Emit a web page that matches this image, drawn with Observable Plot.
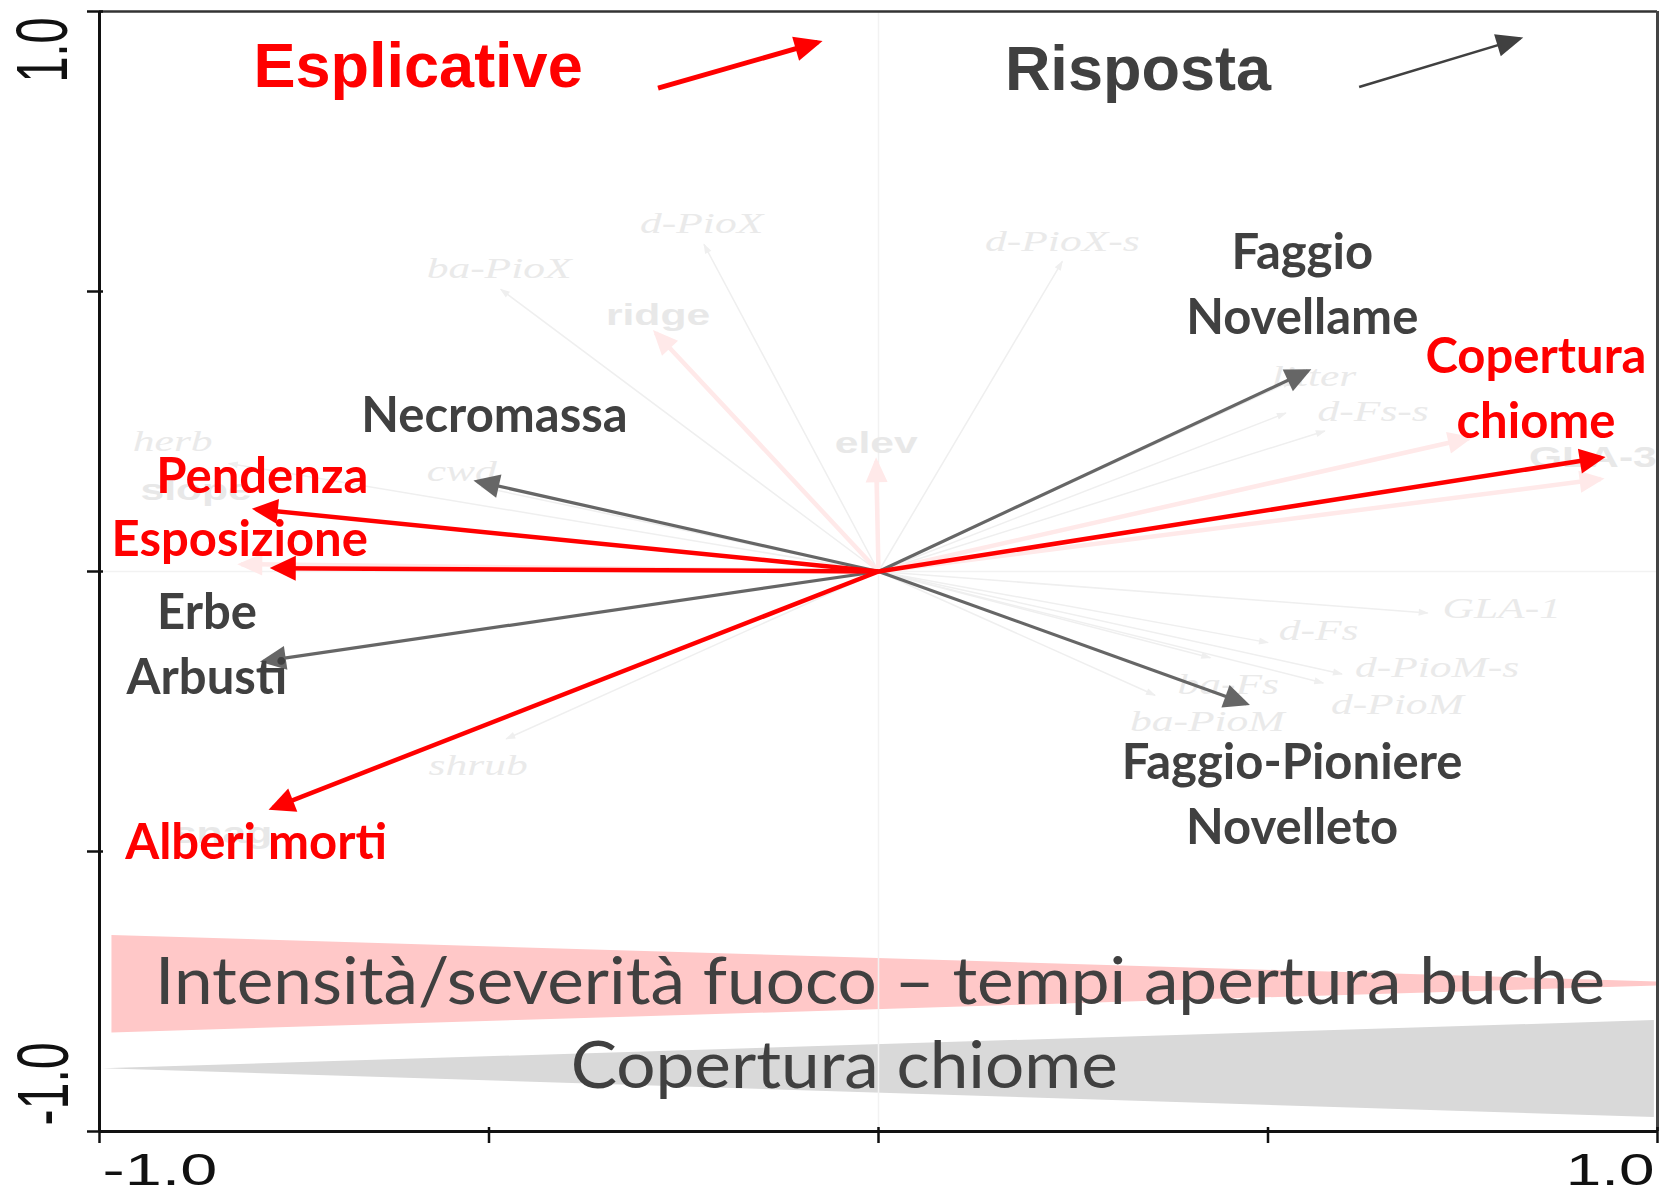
<!DOCTYPE html>
<html>
<head>
<meta charset="utf-8">
<script src="https://cdn.jsdelivr.net/npm/d3@7"></script>
<script src="https://cdn.jsdelivr.net/npm/@observablehq/plot@0.6"></script>
<style>
  html, body { margin: 0; padding: 0; background: #fff; }
  svg { display: block; }
</style>
</head>
<body>
<script>
// ---------- Data: main vectors ----------
const respNames  = ["Necromassa", "Faggio Novellame", "Erbe Arbusti", "Faggio-Pioniere Novelleto"];
const respX      = [-0.515, 0.551, -0.789, 0.472];
const respY      = [0.161, 0.358, -0.160, -0.236];
const respLabels = ["Necromassa", "Faggio\nNovellame", "Erbe\nArbusti", "Faggio-Pioniere\nNovelleto"];
const respLabelX = [-0.493, 0.544, -0.862, 0.531];
const respLabelY = [0.249, 0.424, -0.219, -0.486];

const explNames  = ["Pendenza", "Esposizione", "Alberi morti", "Copertura chiome"];
const explX      = [-0.798, -0.775, -0.777, 0.927];
const explY      = [0.111, 0.006, -0.422, 0.203];
const explLabels = ["Pendenza", "Esposizione", "Alberi morti", "Copertura\nchiome"];
const explLabelX = [-0.791, -0.820, -0.799, 0.844];
const explLabelY = [0.140, 0.028, -0.513, 0.238];

// ---------- Data: faded background vectors ----------
const bgRespX = [-0.224, -0.485, 0.236, 0.530, 0.523, 0.573, -0.834, -0.510, -0.478, 0.705, 0.500, 0.595, 0.571, 0.426, 0.355];
const bgRespY = [0.584, 0.504, 0.554, 0.340, 0.283, 0.251, 0.193, 0.151, -0.299, -0.074, -0.127, -0.183, -0.199, -0.154, -0.221];
const bgRespLabels = ["d-PioX", "ba-PioX", "d-PioX-s", "litter", "d-Fs-s", "herb", "cwd", "shrub", "GLA-1", "d-Fs", "d-PioM-s", "d-PioM", "ba-Fs", "ba-PioM"];
const bgRespLabelX = [-0.227, -0.487, 0.236, 0.559, 0.635, -0.906, -0.535, -0.514, 0.800, 0.565, 0.717, 0.666, 0.449, 0.422];
const bgRespLabelY = [0.622, 0.542, 0.590, 0.349, 0.286, 0.233, 0.179, -0.347, -0.065, -0.106, -0.172, -0.237, -0.201, -0.267];

const bgExplX = [-0.286, -0.003, 0.758, 0.927, -0.818];
const bgExplY = [0.426, 0.197, 0.238, 0.165, 0.013];
const bgExplLabels = ["ridge", "elev", "GLA-3", "slope", "snag"];
const bgExplLabelX = [-0.283, -0.003, 0.917, -0.876, -0.842];
const bgExplLabelY = [0.458, 0.228, 0.203, 0.144, -0.467];

// ---------- Data: legend and bottom gradient bands ----------
const legendLabels = ["Esplicative", "Risposta"];
const legendLabelX = [-0.591, 0.333];
const legendLabelY = [0.865, 0.859];
const legendArrowX1 = [-0.283, 0.617];
const legendArrowY1 = [0.863, 0.865];
const legendArrowX2 = [-0.078, 0.824];
const legendArrowY2 = [0.945, 0.952];

const bandLabels = ["Intensità/severità fuoco – tempi apertura buche", "Copertura chiome"];
const bandLabelX = [0.002, -0.044];
const bandLabelY = [-0.772, -0.922];
const fireBandX = [-0.984, 1.0];
const fireBandTop = [-0.650, -0.733];
const fireBandBottom = [-0.824, -0.740];
const canopyBandX = [-0.996, 0.996];
const canopyBandTop = [-0.888, -0.802];
const canopyBandBottom = [-0.888, -0.975];

// ---------- Axis ticks ----------
const ticks = [-1, -0.5, 0, 0.5, 1];
const tickLabelValues = [-1, 1];
const tickLabels = ["-1.0", "1.0"];

// ---------- Build tables ----------
const resp = respNames.map((n, i) => ({name: n, x0: 0, y0: 0, x: respX[i], y: respY[i]}));
const respText = respLabels.map((t, i) => ({t, x: respLabelX[i], y: respLabelY[i]}));
const expl = explNames.map((n, i) => ({name: n, x0: 0, y0: 0, x: explX[i], y: explY[i]}));
const explText = explLabels.map((t, i) => ({t, x: explLabelX[i], y: explLabelY[i]}));
const bgResp = bgRespX.map((x, i) => ({x0: 0, y0: 0, x, y: bgRespY[i]}));
const bgRespText = bgRespLabels.map((t, i) => ({t, x: bgRespLabelX[i], y: bgRespLabelY[i]}));
const bgExpl = bgExplX.map((x, i) => ({x0: 0, y0: 0, x, y: bgExplY[i]}));
const bgExplText = bgExplLabels.map((t, i) => ({t, x: bgExplLabelX[i], y: bgExplLabelY[i]}));
const legendArrows = legendLabels.map((t, i) => ({t, x1: legendArrowX1[i], y1: legendArrowY1[i], x2: legendArrowX2[i], y2: legendArrowY2[i]}));
const legendText = legendLabels.map((t, i) => ({t, x: legendLabelX[i], y: legendLabelY[i]}));
const fireBand = fireBandX.map((x, i) => ({x, y1: fireBandTop[i], y2: fireBandBottom[i]}));
const canopyBand = canopyBandX.map((x, i) => ({x, y1: canopyBandTop[i], y2: canopyBandBottom[i]}));
const bandText = bandLabels.map((t, i) => ({t, x: bandLabelX[i], y: bandLabelY[i]}));
const tickText = tickLabels.map((t, i) => ({t, v: tickLabelValues[i]}));

// filled triangular arrowhead marker
function head(len, wid, ext) {
  return (color) => {
    const ns = "http://www.w3.org/2000/svg";
    const m = document.createElementNS(ns, "marker");
    m.setAttribute("viewBox", `${ext - len} ${-wid / 2} ${len} ${wid}`);
    m.setAttribute("markerUnits", "userSpaceOnUse");
    m.setAttribute("markerWidth", len);
    m.setAttribute("markerHeight", wid);
    m.setAttribute("refX", 0);
    m.setAttribute("refY", 0);
    m.setAttribute("orient", "auto");
    m.setAttribute("overflow", "visible");
    const p = document.createElementNS(ns, "path");
    p.setAttribute("d", `M${ext - len},${-wid / 2}L${ext},0L${ext - len},${wid / 2}Z`);
    p.setAttribute("fill", color);
    p.setAttribute("stroke", "none");
    m.appendChild(p);
    return m;
  };
}
// tag each text element with a horizontal stretch factor (applied after render)
const stretch = (f) => () => `stretch-${f}`;

const RED = "#ff0000";
const DARK = "#404040";

const chart = Plot.plot({
  width: 1669,
  height: 1195,
  marginLeft: 99,
  marginRight: 12,
  marginTop: 11,
  marginBottom: 64,
  x: {domain: [-1, 1], axis: null},
  y: {domain: [-1, 1], axis: null},
  style: {background: "#fff", fontFamily: "Lato, sans-serif", overflow: "visible"},
  marks: [
    // bottom gradient bands
    Plot.areaY(fireBand, {x: "x", y1: "y1", y2: "y2", fill: "#ffc8c8"}),
    Plot.areaY(canopyBand, {x: "x", y1: "y1", y2: "y2", fill: "#d9d9d9"}),
    // faint zero lines
    Plot.ruleX([0], {stroke: "#f2f2f2", strokeWidth: 1.5}),
    Plot.ruleY([0], {stroke: "#f2f2f2", strokeWidth: 1.5}),
    // faded background vectors
    Plot.link(bgResp, {x1: "x0", y1: "y0", x2: "x", y2: "y", stroke: "#efefef", strokeWidth: 1.5, markerEnd: head(10, 7, 1)}),
    Plot.link(bgExpl, {x1: "x0", y1: "y0", x2: "x", y2: "y", stroke: "#ffe9e9", strokeWidth: 4.5, markerEnd: head(25, 22, 4)}),
    Plot.text(bgRespText, {x: "x", y: "y", text: "t", fontFamily: "Liberation Serif", fontStyle: "italic", fontSize: 30, fill: "#eaeaea", ariaLabel: stretch(1.45)}),
    Plot.text(bgExplText, {x: "x", y: "y", text: "t", fontFamily: "Liberation Sans", fontWeight: "bold", fontSize: 30, fill: "#e8e8e8", ariaLabel: stretch(1.42)}),
    // main vectors
    Plot.link(resp, {x1: "x0", y1: "y0", x2: "x", y2: "y", stroke: "#666666", strokeWidth: 3.2, markerEnd: head(26, 24, 4)}),
    Plot.link(expl, {x1: "x0", y1: "y0", x2: "x", y2: "y", stroke: RED, strokeWidth: 4.5, markerEnd: head(26, 25, 5)}),
    // main labels
    Plot.text(respText, {x: "x", y: "y", text: "t", fontFamily: "Lato", fontWeight: "bold", fontSize: 49, lineHeight: 1.33, lineAnchor: "bottom", fill: DARK}),
    Plot.text(explText, {x: "x", y: "y", text: "t", fontFamily: "Lato", fontWeight: "bold", fontSize: 49, lineHeight: 1.33, lineAnchor: "bottom", fill: RED}),
    // legend
    Plot.link(legendArrows.slice(0, 1), {x1: "x1", y1: "y1", x2: "x2", y2: "y2", stroke: RED, strokeWidth: 5, markerEnd: head(28, 25, 5)}),
    Plot.link(legendArrows.slice(1), {x1: "x1", y1: "y1", x2: "x2", y2: "y2", stroke: DARK, strokeWidth: 2.6, markerEnd: head(27, 23, 3)}),
    Plot.text(legendText.slice(0, 1), {x: "x", y: "y", text: "t", fontFamily: "Liberation Sans", fontWeight: "bold", fontSize: 63, lineAnchor: "bottom", fill: RED}),
    Plot.text(legendText.slice(1), {x: "x", y: "y", text: "t", fontFamily: "Liberation Sans", fontWeight: "bold", fontSize: 63, lineAnchor: "bottom", fill: DARK}),
    // band captions
    Plot.text(bandText, {x: "x", y: "y", text: "t", fontFamily: "Lato", fontSize: 66, lineAnchor: "bottom", fill: DARK, ariaLabel: stretch(1.05)}),
    // frame and axes
    Plot.ruleY([1], {stroke: "#333", strokeWidth: 2.5}),
    Plot.ruleX([1], {stroke: "#444", strokeWidth: 3}),
    Plot.ruleX([-1], {stroke: "#111", strokeWidth: 3}),
    Plot.ruleY([-1], {stroke: "#111", strokeWidth: 3}),
    Plot.ruleX(ticks, {x: d => d, y1: -1, y2: -1, insetTop: -4, insetBottom: -12, stroke: "#111", strokeWidth: 2.5}),
    Plot.ruleY(ticks, {y: d => d, x1: -1, x2: -1, insetLeft: -12, insetRight: -4, stroke: "#111", strokeWidth: 2.5}),
    // tick labels
    Plot.text(tickText.slice(0, 1), {x: "v", y: -1, text: "t", textAnchor: "start", lineAnchor: "bottom", dx: 3, dy: 53, fontFamily: "Liberation Sans", fontSize: 45, fill: "#111", ariaLabel: stretch(1.48)}),
    Plot.text(tickText.slice(1), {x: "v", y: -1, text: "t", textAnchor: "end", lineAnchor: "bottom", dx: -3, dy: 53, fontFamily: "Liberation Sans", fontSize: 45, fill: "#111", ariaLabel: stretch(1.42)}),
    Plot.text(tickText.slice(1), {x: -1, y: "v", text: "t", rotate: -90, textAnchor: "end", lineAnchor: "bottom", dx: -33, dy: 6, fontFamily: "Liberation Sans", fontSize: 72, fill: "#111", ariaLabel: stretch(0.65)}),
    Plot.text(tickText.slice(0, 1), {x: -1, y: "v", text: "t", rotate: -90, textAnchor: "start", lineAnchor: "bottom", dx: -32, dy: -6, fontFamily: "Liberation Sans", fontSize: 72, fill: "#111", ariaLabel: stretch(0.67)})
  ]
});

document.body.append(chart);

// horizontally stretched labels (the original R figure was stretched sideways)
chart.querySelectorAll('text[aria-label^="stretch-"]').forEach(t => {
  const f = +t.getAttribute("aria-label").slice(8);
  const w = t.getComputedTextLength();
  t.setAttribute("textLength", (w * f).toFixed(1));
  t.setAttribute("lengthAdjust", "spacingAndGlyphs");
  t.removeAttribute("aria-label");
});
</script>
</body>
</html>
